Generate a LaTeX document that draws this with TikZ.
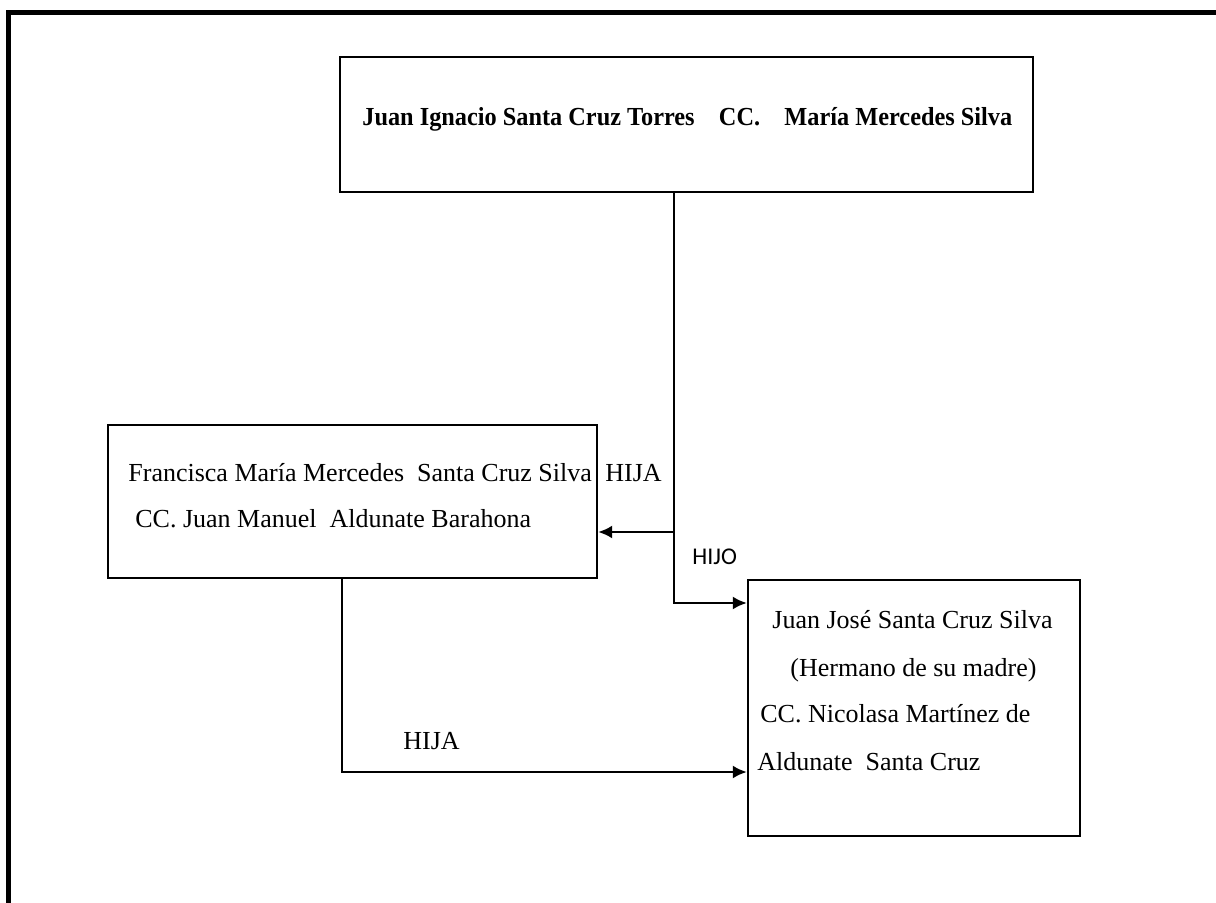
\documentclass[tikz,border=0pt]{standalone}
\usepackage{fontspec}
\setmainfont{Liberation Serif}
\newfontfamily\calib{Carlito}
\usetikzlibrary{arrows.meta}
\tikzset{
  box/.style={draw, line width=1.2pt, rectangle, inner sep=0pt},
  arr/.style={line width=1.1pt, -{Latex[length=7pt,width=6.5pt]}},
  txt/.style={anchor=base west, inner sep=0pt, font=\fontsize{13pt}{15pt}\selectfont},
}
\begin{document}
\begin{tikzpicture}[x=0.5pt,y=-0.5pt]
\useasboundingbox (0,0) rectangle (1216,903);
% outer frame
\draw[line width=2.5pt] (8,903) -- (8,13) -- (1216,13);
% boxes
\node[box, minimum width=346.5pt, minimum height=67.5pt] (top) at (686.5,124.5) {};
\node[box, minimum width=244.5pt, minimum height=76.5pt] (fran) at (352.5,501.5) {};
\node[box, minimum width=166pt, minimum height=128pt] (jose) at (914,708) {};
% texts
\node[txt, font=\fontsize{13pt}{15pt}\selectfont\bfseries] (ttop) at (362,126)
  {\scalebox{0.935}[1]{Juan Ignacio Santa Cruz Torres\hspace{13pt}CC.\hspace{13pt}María Mercedes Silva}};
\node[txt] (f1) at (128,482) {Francisca María Mercedes\ \ Santa Cruz Silva};
\node[txt] (f2) at (135,528) {CC. Juan Manuel\ \ Aldunate Barahona};
\node[txt] (j1t) at (772,628) {Juan José Santa Cruz Silva};
\node[txt] (j2t) at (790,676) {(Hermano de su madre)};
\node[txt] (j3t) at (760,722) {CC. Nicolasa Martínez de};
\node[txt] (j4t) at (757,770) {Aldunate\ \ Santa Cruz};
% labels
\node[txt] (hija1) at (605,482) {HIJA};
\node[txt, font=\calib\fontsize{12pt}{14pt}\selectfont] (hijo) at (692,565) {HIJO};
\node[txt] (hija2) at (403,749) {HIJA};
% connectors
\coordinate (ja) at (674,532);
\coordinate (jb) at (674,603);
\coordinate (k) at (342,772);
\draw[line width=1.1pt] (top.south -| ja) -- (ja);
\draw[arr] (ja) -- (ja -| fran.east);
\draw[arr] (ja) -- (jb) -- (jb -| jose.west);
\draw[arr] (fran.south -| k) -- (k) -- (k -| jose.west);
\end{tikzpicture}
\end{document}
